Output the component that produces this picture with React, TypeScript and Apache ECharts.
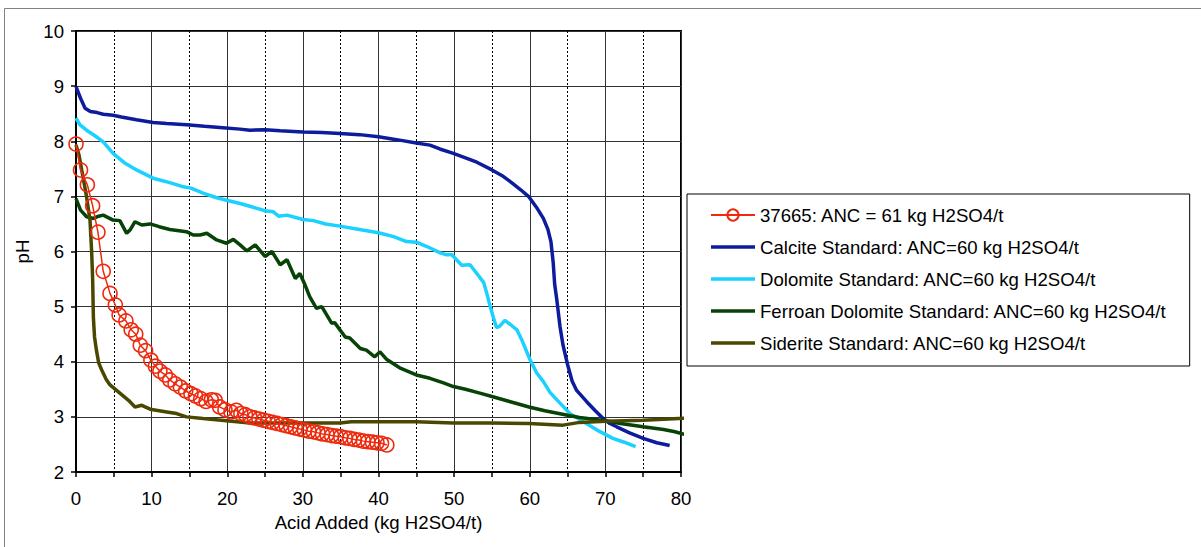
import React, { useEffect, useRef } from "react";
import * as echarts from "echarts";

const FONT = "Arial, 'Liberation Sans', sans-serif";

const xTicks = [0, 10, 20, 30, 40, 50, 60, 70, 80];
const yTicks = [2, 3, 4, 5, 6, 7, 8, 9, 10];

const seriesNames = [
  "37665: ANC = 61 kg H2SO4/t",
  "Calcite Standard: ANC=60 kg H2SO4/t",
  "Dolomite Standard: ANC=60 kg H2SO4/t",
  "Ferroan Dolomite Standard: ANC=60 kg H2SO4/t",
  "Siderite Standard: ANC=60 kg H2SO4/t",
];

const sampleX = [0, 0.6, 1.5, 2.2, 2.9, 3.6, 4.5, 5.2, 5.7, 6.6, 7.3, 7.9, 8.5, 9.2, 9.9, 10.5, 11.1, 11.8, 12.4, 13.1, 13.8, 14.5, 15.2, 15.8, 16.5, 17.2, 17.9, 18.4, 19.0, 19.7, 20.5, 21.2, 21.8, 22.4, 23.0, 23.6, 24.2, 24.8, 25.4, 26.0, 26.6, 27.2, 27.8, 28.4, 29.0, 29.6, 30.2, 30.8, 31.4, 32.0, 32.6, 33.2, 33.8, 34.4, 35.0, 35.6, 36.2, 36.8, 37.4, 38.0, 38.6, 39.2, 39.8, 40.4, 41.1];
const samplePH = [7.95, 7.48, 7.21, 6.83, 6.35, 5.64, 5.24, 5.03, 4.85, 4.74, 4.58, 4.50, 4.30, 4.20, 4.03, 3.92, 3.83, 3.76, 3.67, 3.60, 3.54, 3.47, 3.42, 3.38, 3.33, 3.28, 3.31, 3.30, 3.18, 3.13, 3.09, 3.12, 3.06, 3.04, 3.00, 2.98, 2.96, 2.94, 2.92, 2.90, 2.88, 2.86, 2.84, 2.82, 2.80, 2.78, 2.76, 2.74, 2.73, 2.71, 2.69, 2.68, 2.66, 2.65, 2.64, 2.62, 2.61, 2.59, 2.58, 2.56, 2.55, 2.54, 2.53, 2.52, 2.49];

const calciteX = [0, 0.6, 1.2, 1.9, 2.8, 3.6, 4.9, 6.0, 8.0, 10.2, 12.0, 14.6, 17.0, 19.0, 21.7, 23.0, 25.0, 27.0, 30.0, 32.5, 34.9, 37.5, 40.0, 42.8, 45.0, 46.8, 48.1, 49.9, 51.5, 53.0, 55.0, 56.3, 57.6, 58.8, 59.9, 60.9, 61.8, 62.4, 62.8, 63.1, 63.3, 63.6, 64.0, 64.4, 65.0, 65.6, 66.2, 67.5, 68.6, 69.7, 70.6, 71.5, 73.2, 75.0, 76.8, 78.5];
const calcitePH = [8.99, 8.78, 8.60, 8.54, 8.52, 8.49, 8.47, 8.44, 8.39, 8.34, 8.32, 8.30, 8.27, 8.25, 8.22, 8.20, 8.21, 8.19, 8.17, 8.16, 8.14, 8.12, 8.08, 8.02, 7.97, 7.93, 7.86, 7.78, 7.70, 7.62, 7.48, 7.38, 7.25, 7.12, 6.99, 6.80, 6.60, 6.40, 6.18, 5.80, 5.40, 5.10, 4.64, 4.30, 3.95, 3.65, 3.48, 3.28, 3.12, 2.97, 2.88, 2.82, 2.71, 2.61, 2.53, 2.48];

const dolomiteX = [0, 0.5, 1.4, 2.5, 3.6, 4.9, 6.5, 8.0, 10.2, 12.4, 14.0, 15.2, 16.8, 18.5, 19.9, 21.7, 23.0, 25.0, 26.1, 26.8, 27.9, 30.0, 31.4, 33.0, 34.9, 37.5, 40.0, 42.0, 43.7, 45.0, 46.4, 48.1, 49.0, 49.7, 51.0, 52.1, 53.0, 53.9, 54.3, 54.7, 55.2, 55.6, 56.0, 56.7, 57.4, 58.3, 59.0, 60.0, 60.9, 61.8, 62.7, 64.0, 65.3, 67.1, 68.9, 71.0, 72.5, 74.0];
const dolomitePH = [8.42, 8.30, 8.20, 8.10, 7.99, 7.78, 7.60, 7.48, 7.33, 7.25, 7.18, 7.15, 7.06, 6.98, 6.93, 6.87, 6.82, 6.74, 6.72, 6.64, 6.66, 6.58, 6.56, 6.50, 6.46, 6.40, 6.34, 6.27, 6.18, 6.17, 6.09, 5.98, 5.94, 5.94, 5.75, 5.76, 5.60, 5.44, 5.25, 5.04, 4.80, 4.62, 4.64, 4.75, 4.68, 4.58, 4.38, 4.05, 3.80, 3.64, 3.44, 3.25, 3.06, 2.91, 2.76, 2.61, 2.54, 2.46];

const ferroanX = [0, 0.6, 1.4, 2.3, 3.0, 3.6, 4.9, 5.8, 6.7, 7.2, 7.8, 8.7, 9.8, 11.0, 12.4, 14.6, 15.5, 16.4, 17.3, 18.6, 19.9, 20.8, 21.7, 22.6, 23.7, 25.0, 25.9, 27.0, 27.9, 29.0, 29.6, 30.2, 30.9, 31.8, 32.5, 33.8, 34.2, 35.6, 36.2, 37.6, 38.4, 39.5, 40.2, 41.1, 42.8, 45.0, 46.8, 48.5, 49.9, 51.5, 53.4, 55.0, 57.8, 59.9, 62.0, 65.0, 66.6, 70.0, 72.0, 75.0, 77.7, 79.2, 80.8];
const ferroanPH = [6.96, 6.75, 6.63, 6.60, 6.64, 6.66, 6.57, 6.56, 6.33, 6.40, 6.54, 6.48, 6.50, 6.45, 6.40, 6.36, 6.30, 6.30, 6.33, 6.21, 6.15, 6.22, 6.12, 6.01, 6.12, 5.91, 6.00, 5.76, 5.85, 5.51, 5.60, 5.42, 5.18, 4.97, 5.00, 4.70, 4.71, 4.45, 4.43, 4.24, 4.21, 4.09, 4.18, 4.04, 3.89, 3.76, 3.70, 3.62, 3.55, 3.50, 3.43, 3.37, 3.26, 3.18, 3.11, 3.03, 2.99, 2.93, 2.88, 2.82, 2.77, 2.73, 2.67];

const sideriteX = [0, 0.4, 0.75, 1.1, 1.4, 1.85, 2.07, 2.2, 2.3, 2.45, 2.7, 3.0, 3.4, 4.0, 4.5, 5.8, 7.1, 7.8, 8.7, 9.8, 12.0, 13.3, 14.6, 16.8, 19.9, 23.0, 26.0, 30.0, 34.9, 36.4, 40.0, 45.0, 49.9, 55.0, 59.9, 64.4, 66.6, 70.0, 75.0, 80.8];
const sideritePH = [7.93, 7.75, 7.48, 7.22, 6.99, 6.57, 6.0, 5.5, 4.8, 4.45, 4.21, 3.98, 3.85, 3.68, 3.58, 3.43, 3.28, 3.18, 3.21, 3.14, 3.09, 3.06, 3.00, 2.97, 2.93, 2.89, 2.89, 2.89, 2.89, 2.91, 2.91, 2.91, 2.89, 2.89, 2.88, 2.85, 2.90, 2.92, 2.94, 2.98];

const colors = ["#EE2A0E", "#0D1C9C", "#1AD1FF", "#074207", "#4A4800"];

const zip = (xs: number[], ys: number[]) => xs.map((x, i) => [x, ys[i]]);

const BAR_ICON = "path://M0,0H44V3.6H0Z";

export default function App() {
  const ref = useRef<HTMLDivElement>(null);
  useEffect(() => {
    if (!ref.current) return;
    const chart = echarts.init(ref.current, null, { renderer: "svg" });
    const std = (idx: number, xs: number[], ys: number[], clip = true) => ({
      name: seriesNames[idx],
      type: "line",
      data: zip(xs, ys),
      symbol: "none",
      showSymbol: false,
      clip,
      z: 2,
      lineStyle: { color: colors[idx], width: 3.5 },
      itemStyle: { color: colors[idx] },
    });
    chart.setOption({
      animation: false,
      backgroundColor: "#fff",
      textStyle: { fontFamily: FONT },
      graphic: [
        {
          type: "rect",
          shape: { x: 4.5, y: 8.5, width: 1200, height: 545 },
          style: { fill: "none", stroke: "#808080", lineWidth: 1 },
          silent: true,
        },
      ],
      grid: {
        left: 76,
        top: 31,
        width: 605,
        height: 441,
        show: true,
        borderColor: "#000",
        borderWidth: 2,
        backgroundColor: "transparent",
      },
      legend: {
        orient: "vertical",
        left: 687,
        top: 194,
        itemWidth: 44,
        itemHeight: 14,
        itemGap: 12,
        padding: [11, 23, 13, 23],
        borderColor: "#000",
        borderWidth: 1,
        data: [
          { name: seriesNames[0] },
          { name: seriesNames[1], icon: BAR_ICON },
          { name: seriesNames[2], icon: BAR_ICON },
          { name: seriesNames[3], icon: BAR_ICON },
          { name: seriesNames[4], icon: BAR_ICON },
        ],
        textStyle: { fontSize: 18.6, fontFamily: FONT, color: "#000", lineHeight: 20 },
      },
      xAxis: {
        type: "value",
        min: 0,
        max: 80,
        interval: 10,
        data: xTicks,
        name: "Acid Added (kg H2SO4/t)",
        nameLocation: "middle",
        nameGap: 38,
        nameTextStyle: { fontSize: 18.6, color: "#000", fontFamily: FONT },
        axisLine: { show: true, onZero: false, lineStyle: { color: "#000", width: 2 } },
        axisTick: { show: true, length: 5, lineStyle: { color: "#000", width: 1.5 } },
        minorTick: { show: true, splitNumber: 2, length: 5, lineStyle: { color: "#000", width: 1.5 } },
        splitLine: { show: true, lineStyle: { color: "#333", width: 1 } },
        minorSplitLine: { show: true, lineStyle: { color: "#000", width: 1, type: [2, 2] } },
        axisLabel: { fontSize: 18.6, color: "#000", margin: 17, fontFamily: FONT },
      },
      yAxis: {
        type: "value",
        min: 2,
        max: 10,
        interval: 1,
        data: yTicks,
        name: "pH",
        nameLocation: "middle",
        nameGap: 37,
        nameTextStyle: { fontSize: 18.6, color: "#000", fontFamily: FONT },
        axisLine: { show: true, onZero: false, lineStyle: { color: "#000", width: 2 } },
        axisTick: { show: true, length: 5, lineStyle: { color: "#000", width: 1.5 } },
        splitLine: { show: true, lineStyle: { color: "#333", width: 1 } },
        axisLabel: { fontSize: 18.6, color: "#000", margin: 12, fontFamily: FONT },
      },
      series: [
        {
          name: seriesNames[0],
          type: "line",
          data: zip(sampleX, samplePH),
          symbol: "circle",
          symbolSize: 14,
          showSymbol: true,
          z: 5,
          lineStyle: { color: colors[0], width: 1.5 },
          itemStyle: { color: "rgba(255,255,255,0)", borderColor: colors[0], borderWidth: 1.6 },
        },
        std(1, calciteX, calcitePH),
        std(2, dolomiteX, dolomitePH),
        std(3, ferroanX, ferroanPH, false),
        std(4, sideriteX, sideritePH, false),
      ],
    });
    return () => chart.dispose();
  }, []);
  return (
    <div
      ref={ref}
      style={{ position: "absolute", left: 0, top: 0, width: 1201, height: 547 }}
    />
  );
}
